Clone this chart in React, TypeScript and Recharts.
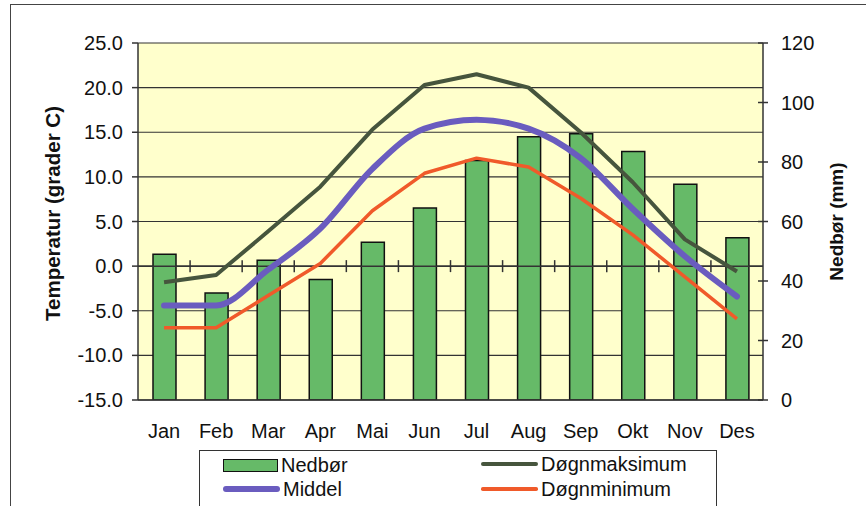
import React from 'react';
import {
  ComposedChart, Bar, Line, XAxis, YAxis, CartesianGrid, ReferenceLine, Legend,
} from 'recharts';

const months = ['Jan', 'Feb', 'Mar', 'Apr', 'Mai', 'Jun', 'Jul', 'Aug', 'Sep', 'Okt', 'Nov', 'Des'];
const nedbor = [49, 36, 47, 40.5, 53, 64.5, 80.5, 88.5, 89.5, 83.5, 72.5, 54.5];
const middel = [-4.4, -4.4, -0.4, 4.2, 10.9, 15.4, 16.4, 15.4, 12.1, 6.4, 1.1, -3.4];
const maksimum = [-1.8, -1.0, 3.9, 8.9, 15.3, 20.3, 21.5, 20.0, 15.0, 9.4, 3.0, -0.6];
const minimum = [-6.9, -6.9, -3.3, 0.3, 6.2, 10.4, 12.1, 11.1, 7.6, 3.5, -1.2, -5.9];
const tempTicks = [-15, -10, -5, 0, 5, 10, 15, 20, 25];
const mmTicks = [0, 20, 40, 60, 80, 100, 120];

const data = months.map((m, i) => ({
  month: m,
  Nedbør: nedbor[i],
  Middel: middel[i],
  Døgnmaksimum: maksimum[i],
  Døgnminimum: minimum[i],
}));

const FONT = '"Liberation Sans", Arial, sans-serif';
const GREEN = '#66ba68';
const PURPLE = '#6a5cbf';
const DARK = '#46553d';
const ORANGE = '#f05a2a';

const legendPos: Record<string, { left: number; top: number }> = {
  'Nedbør': { left: 23, top: 14 },
  'Middel': { left: 23, top: 38 },
  'Døgnmaksimum': { left: 281, top: 13 },
  'Døgnminimum': { left: 281, top: 38 },
};
const lineWidths: Record<string, number> = { Middel: 6, Døgnmaksimum: 4, Døgnminimum: 3.5 };

const renderLegend = (props: any) => {
  const payload = props.payload || [];
  return (
    <div style={{ position: 'relative', width: '100%', height: '100%', border: '1.5px solid #333', boxSizing: 'border-box', background: '#fff' }}>
      {payload.map((entry: any) => {
        const name = entry.value;
        const pos = legendPos[name] || { left: 0, top: 0 };
        const isBar = name === 'Nedbør';
        const sw = lineWidths[name] || 4;
        return (
          <div key={name} style={{ position: 'absolute', left: pos.left, top: pos.top, display: 'flex', alignItems: 'center', height: 0 }}>
            {isBar ? (
              <div style={{ width: 55, height: 13, background: GREEN, border: '1.5px solid #111', boxSizing: 'border-box' }} />
            ) : (
              <div style={{ width: 57, height: sw, background: entry.color, borderRadius: sw / 2 }} />
            )}
            <span style={{ marginLeft: 3, fontFamily: FONT, fontSize: 20, color: '#111', whiteSpace: 'nowrap', lineHeight: '20px' }}>{name}</span>
          </div>
        );
      })}
    </div>
  );
};

const LeftTitle = (props: any) => {
  const vb = props.viewBox || { x: 0, y: 0, width: 0, height: 0 };
  const cx = vb.x + 52;
  const cy = vb.y + vb.height / 2 - 8;
  return (
    <text x={cx} y={cy} transform={`rotate(-90 ${cx} ${cy})`} textAnchor="middle" dominantBaseline="central"
      fontFamily={FONT} fontWeight="bold" fontSize={20.5} fill="#111">Temperatur (grader C)</text>
  );
};

const RightTitle = (props: any) => {
  const vb = props.viewBox || { x: 0, y: 0, width: 0, height: 0 };
  const cx = vb.x + 73;
  const cy = vb.y + vb.height / 2;
  return (
    <text x={cx} y={cy} transform={`rotate(-90 ${cx} ${cy})`} textAnchor="middle" dominantBaseline="central"
      fontFamily={FONT} fontWeight="bold" fontSize={19} fill="#111">Nedbør (mm)</text>
  );
};

const RightTick = (props: any) => {
  const { x, y, payload } = props;
  return (
    <g>
      <line x1={x - 23} x2={x - 13} y1={y} y2={y} stroke="#333" strokeWidth={1.5} />
      <text x={x} y={y} dy="0.355em" textAnchor="start" fontFamily={FONT} fontSize={20} fill="#111">{payload.value}</text>
    </g>
  );
};

const ZeroLine = (props: any) => {
  const { x1, y1, x2, y2 } = props;
  const n = months.length;
  const ticks = [];
  for (let k = 1; k < n; k++) {
    const tx = x1 + ((x2 - x1) * k) / n;
    ticks.push(<line key={k} x1={tx} x2={tx} y1={y1 - 6} y2={y1 + 6} stroke="#333" strokeWidth={1.5} />);
  }
  return (
    <g>
      <line x1={x1} y1={y1} x2={x2} y2={y2} stroke="#333" strokeWidth={1.5} />
      {ticks}
    </g>
  );
};

export default function App() {
  return (
    <div style={{ position: 'absolute', left: 0, top: 0, width: 866, height: 506, overflow: 'hidden', background: '#fff' }}>
      <div style={{ position: 'absolute', left: 10, top: 4, width: 900, height: 600, border: '1.5px solid #444' }} />
      <div style={{ position: 'absolute', left: 0, top: 0 }}>
        <ComposedChart width={866} height={506} data={data} margin={{ top: 43, right: 0, bottom: 0, left: 0 }}>
          <CartesianGrid yAxisId="left" vertical={false} stroke="#333" strokeWidth={1.2} fill="#ffffcc" fillOpacity={1} />
          <XAxis dataKey="month" interval={0} tickLine={false} tickSize={0} tickMargin={24} height={36}
            axisLine={{ stroke: '#333', strokeWidth: 1.5 }}
            tick={{ fontFamily: FONT, fontSize: 20, fill: '#111' }} />
          <YAxis yAxisId="left" orientation="left" width={138} domain={[-15, 25]} ticks={tempTicks}
            interval={0} allowDataOverflow
            tickFormatter={(v: number) => v.toFixed(1)} tickSize={6} tickMargin={9}
            axisLine={{ stroke: '#333', strokeWidth: 1.5 }} tickLine={{ stroke: '#333', strokeWidth: 1.5 }}
            tick={{ fontFamily: FONT, fontSize: 20, fill: '#111' }}
            label={<LeftTitle />} />
          <YAxis yAxisId="right" orientation="right" width={103} domain={[0, 120]} ticks={mmTicks}
            interval={0} allowDataOverflow tickSize={0} tickMargin={18} tickLine={false}
            axisLine={{ stroke: '#333', strokeWidth: 1.5 }}
            tick={<RightTick />}
            label={<RightTitle />} />
          <ReferenceLine yAxisId="left" y={0} shape={<ZeroLine />} />
          <Bar yAxisId="right" dataKey="Nedbør" fill={GREEN} stroke="#111" strokeWidth={1.5} barSize={23} isAnimationActive={false} />
          <Line yAxisId="left" type="linear" dataKey="Døgnmaksimum" stroke={DARK} strokeWidth={4} strokeLinejoin="round" dot={false} isAnimationActive={false} />
          <Line yAxisId="left" type="monotone" dataKey="Middel" stroke={PURPLE} strokeWidth={6} strokeLinecap="round" dot={false} isAnimationActive={false} />
          <Line yAxisId="left" type="linear" dataKey="Døgnminimum" stroke={ORANGE} strokeWidth={3.5} strokeLinejoin="round" dot={false} isAnimationActive={false} />
          <Legend verticalAlign="bottom" content={renderLegend}
            wrapperStyle={{ left: 199, top: 450, width: 518, height: 70, bottom: 'auto' }} />
        </ComposedChart>
      </div>
    </div>
  );
}
